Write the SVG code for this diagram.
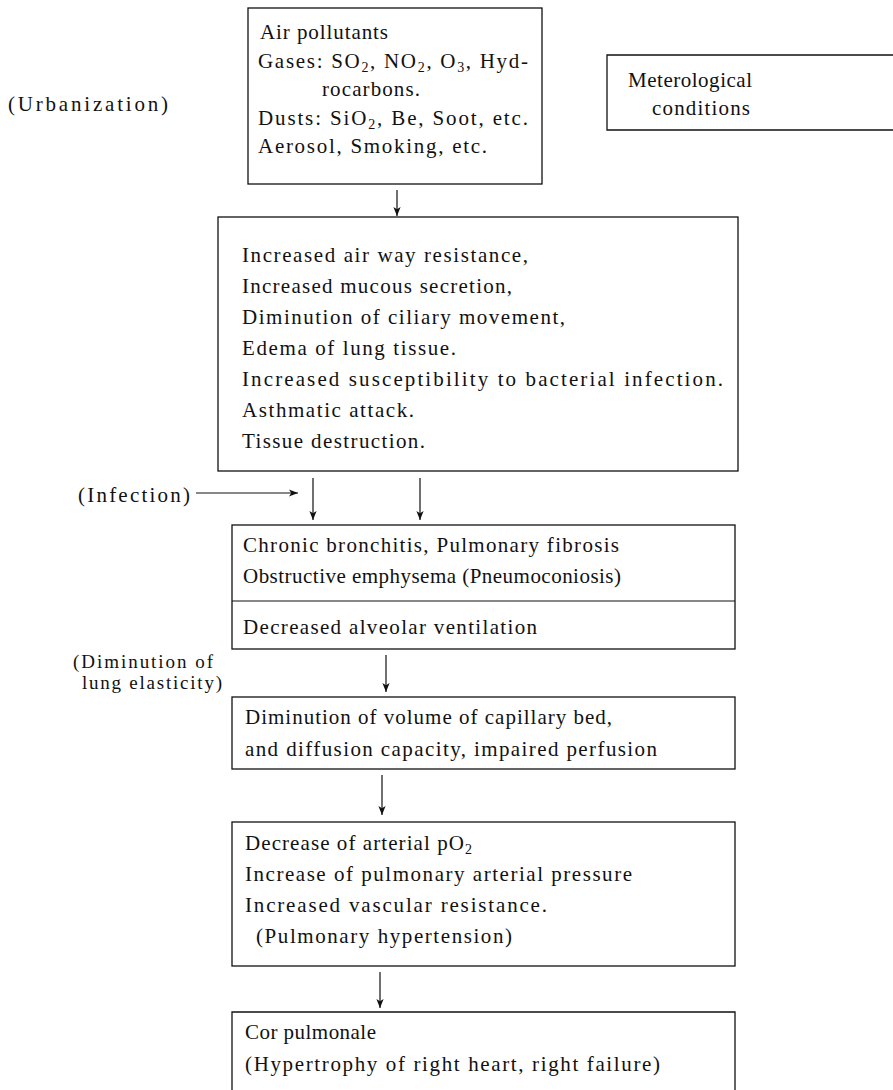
<svg xmlns="http://www.w3.org/2000/svg" width="893" height="1090" viewBox="0 0 893 1090">
<style>
text{font-family:"Liberation Serif","Times New Roman",serif;font-size:21px;fill:#111}
.box{fill:none;stroke:#111;stroke-width:1.3}
.ln{fill:none;stroke:#111;stroke-width:1.2}
.sub{font-size:14px}
.tight{font-size:19px}
</style>
<defs>
<marker id="ah" viewBox="0 0 10 10" refX="10" refY="5" markerWidth="9" markerHeight="9" markerUnits="userSpaceOnUse" orient="auto">
<path d="M0,1 L10,5 L0,9 L2.5,5 Z" fill="#111"/>
</marker>
</defs>
<rect width="893" height="1090" fill="#fff"/>

<g id="urbanization">
<text x="8" y="111" textLength="160">(Urbanization)</text>
</g>

<g id="air-pollutants">
<rect class="box" x="248" y="8" width="294" height="176"/>
<text x="260" y="39" textLength="128">Air pollutants</text>
<text x="258" y="68" textLength="270">Gases: SO<tspan class="sub" dy="4">2</tspan><tspan dy="-4">, NO</tspan><tspan class="sub" dy="4">2</tspan><tspan dy="-4">, O</tspan><tspan class="sub" dy="4">3</tspan><tspan dy="-4">, Hyd-</tspan></text>
<text x="322" y="96" textLength="98">rocarbons.</text>
<text x="258" y="125" textLength="270">Dusts: SiO<tspan class="sub" dy="4">2</tspan><tspan dy="-4">, Be, Soot, etc.</tspan></text>
<text x="258" y="153" textLength="229">Aerosol, Smoking, etc.</text>
</g>

<g id="meteorological">
<path class="box" d="M900,55 H607 V130 H900"/>
<text x="628" y="87" textLength="124">Meterological</text>
<text x="652" y="115" textLength="98">conditions</text>
</g>

<g id="effects">
<rect class="box" x="218" y="217" width="520" height="254"/>
<text x="242" y="262" textLength="286">Increased air way resistance,</text>
<text x="242" y="293" textLength="270">Increased mucous secretion,</text>
<text x="242" y="324" textLength="323">Diminution of ciliary movement,</text>
<text x="242" y="355" textLength="214">Edema of lung tissue.</text>
<text x="242" y="386" textLength="481">Increased susceptibility to bacterial infection.</text>
<text x="242" y="417" textLength="172">Asthmatic attack.</text>
<text x="242" y="448" textLength="183">Tissue destruction.</text>
</g>

<g id="infection">
<text x="78" y="502" textLength="112">(Infection)</text>
</g>

<g id="chronic">
<rect class="box" x="232" y="525" width="503" height="124"/>
<line class="ln" x1="232" y1="601" x2="735" y2="601"/>
<text x="243" y="552" textLength="376">Chronic bronchitis, Pulmonary fibrosis</text>
<text x="243" y="583" textLength="378">Obstructive emphysema (Pneumoconiosis)</text>
<text x="243" y="634" textLength="294">Decreased alveolar ventilation</text>
</g>

<g id="elasticity">
<text class="tight" x="73" y="668" textLength="140">(Diminution of</text>
<text class="tight" x="82" y="689" textLength="140">lung elasticity)</text>
</g>

<g id="capillary">
<rect class="box" x="232" y="697" width="503" height="72"/>
<text x="245" y="724" textLength="367">Diminution of volume of capillary bed,</text>
<text x="245" y="756" textLength="412">and diffusion capacity, impaired perfusion</text>
</g>

<g id="hypertension">
<rect class="box" x="232" y="822" width="503" height="144"/>
<text x="245" y="850" textLength="227">Decrease of arterial pO<tspan class="sub" dy="4">2</tspan></text>
<text x="245" y="881" textLength="387">Increase of pulmonary arterial pressure</text>
<text x="245" y="912" textLength="302">Increased vascular resistance.</text>
<text x="256" y="943" textLength="256">(Pulmonary hypertension)</text>
</g>

<g id="cor-pulmonale">
<path class="box" d="M232,1100 V1012 H735 V1100"/>
<text x="245" y="1039" textLength="131">Cor pulmonale</text>
<text x="245" y="1071" textLength="415">(Hypertrophy of right heart, right failure)</text>
</g>

<g id="connectors">
<line class="ln" x1="397" y1="190" x2="397" y2="216" marker-end="url(#ah)"/>
<line class="ln" x1="196" y1="493" x2="298" y2="493" marker-end="url(#ah)"/>
<line class="ln" x1="313" y1="478" x2="313" y2="520" marker-end="url(#ah)"/>
<line class="ln" x1="420" y1="478" x2="420" y2="520" marker-end="url(#ah)"/>
<line class="ln" x1="386" y1="655" x2="386" y2="692" marker-end="url(#ah)"/>
<line class="ln" x1="382" y1="775" x2="382" y2="815" marker-end="url(#ah)"/>
<line class="ln" x1="380" y1="972" x2="380" y2="1008" marker-end="url(#ah)"/>
</g>
</svg>
